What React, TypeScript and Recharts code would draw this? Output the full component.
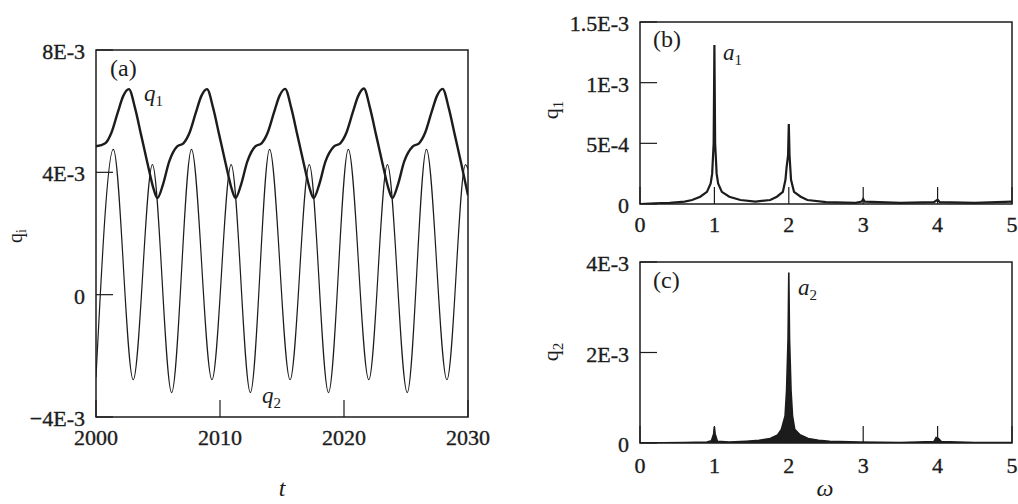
import {
  Area,
  AreaChart,
  Line,
  LineChart,
  ReferenceArea,
  XAxis,
  YAxis,
} from "recharts";

// values in units of 1E-3
const q1Years = [
  2000, 2000.75, 2001.25, 2001.75, 2002.2, 2002.65, 2003.15, 2003.65, 2004.15, 2004.65, 2004.95,
  2005.4, 2005.9, 2006.55, 2007.05, 2007.55, 2008.05, 2008.5, 2008.95, 2009.45, 2009.95, 2010.45,
  2010.95, 2011.25, 2011.7, 2012.2, 2012.85, 2013.35, 2013.85, 2014.35, 2014.8, 2015.25, 2015.75,
  2016.25, 2016.75, 2017.25, 2017.55, 2018.0, 2018.5, 2019.2, 2019.7, 2020.2, 2020.7, 2021.15,
  2021.6, 2022.1, 2022.6, 2023.1, 2023.6, 2023.9, 2024.35, 2024.85, 2025.55, 2026.05, 2026.55,
  2027.05, 2027.5, 2027.95, 2028.45, 2028.95, 2029.45, 2030,
];
const q1Values = [
  4.85, 4.95, 5.3, 5.95, 6.5, 6.72, 6.1, 5.2, 4.3, 3.45, 3.16,
  3.6, 4.35, 4.85, 4.95, 5.3, 5.95, 6.5, 6.72, 6.1, 5.2, 4.3,
  3.45, 3.16, 3.6, 4.35, 4.85, 4.95, 5.3, 5.95, 6.5, 6.73, 6.1,
  5.2, 4.3, 3.45, 3.16, 3.6, 4.35, 4.85, 4.95, 5.3, 5.95, 6.5,
  6.74, 6.1, 5.2, 4.3, 3.45, 3.16, 3.6, 4.35, 4.85, 4.95, 5.3,
  5.95, 6.5, 6.73, 6.1, 5.2, 4.3, 3.25,
];

const q2Years = [
  2000, 2001.4, 2003.0, 2004.55, 2006.1, 2007.7, 2009.35, 2010.9, 2012.45, 2014.0, 2015.65,
  2017.2, 2018.75, 2020.35, 2022.0, 2023.5, 2025.1, 2026.65, 2028.3, 2029.8, 2030,
];
const q2Values = [
  -2.7, 4.75, -2.78, 4.25, -3.2, 4.75, -2.78, 4.25, -3.2, 4.75, -2.78,
  4.25, -3.2, 4.75, -2.78, 4.25, -3.2, 4.75, -2.78, 4.25, 4.1,
];

const omegaB = [
  0, 0.2, 0.4, 0.6, 0.7, 0.81, 0.9, 0.95, 0.97, 0.99, 1.0, 1.01, 1.03, 1.05, 1.1, 1.2, 1.35, 1.55,
  1.75, 1.84, 1.92, 1.955, 1.97, 1.99, 2.0, 2.01, 2.03, 2.07, 2.16, 2.25, 2.5, 2.9, 2.98, 3.0, 3.02,
  3.5, 3.95, 4.0, 4.03, 4.5, 5.0,
];
const ampB = [
  0, 0.005, 0.01, 0.02, 0.033, 0.06, 0.1, 0.17, 0.25, 0.5, 1.31, 0.5, 0.25, 0.17, 0.1, 0.06, 0.033, 0.02,
  0.033, 0.06, 0.1, 0.2, 0.3, 0.4, 0.66, 0.4, 0.2, 0.1, 0.06, 0.033, 0.015, 0.01, 0.02, 0.04, 0.02,
  0.01, 0.015, 0.035, 0.015, 0.01, 0.02,
];

const omegaC = [
  0, 0.3, 0.6, 0.9, 0.96, 0.99, 1.0, 1.01, 1.04, 1.2, 1.43, 1.6, 1.75, 1.85, 1.9, 1.95, 1.97, 1.99,
  2.0, 2.01, 2.03, 2.05, 2.08, 2.15, 2.26, 2.4, 2.55, 2.95, 3.5, 3.95, 3.98, 4.01, 4.05, 4.5, 5.0,
];
const ampC = [
  0, 0.005, 0.01, 0.02, 0.05, 0.2, 0.35, 0.2, 0.04, 0.02, 0.04, 0.06, 0.1, 0.18, 0.3, 0.6, 1.16, 2.3,
  3.77, 2.3, 1.16, 0.6, 0.3, 0.18, 0.1, 0.06, 0.04, 0.02, 0.01, 0.03, 0.12, 0.1, 0.03, 0.01, 0.01,
];

const tTicks = [2000, 2010, 2020, 2030];
const qiTicks = [-4, 0, 4, 8];
const qiTickLabels = ["\u22124E-3", "0", "4E-3", "8E-3"];
const omegaTicks = [0, 1, 2, 3, 4, 5];
const q1SpecTicks = [0, 0.5, 1, 1.5];
const q1SpecLabels = ["0", "5E-4", "1E-3", "1.5E-3"];
const q2SpecTicks = [0, 2, 4];
const q2SpecLabels = ["0", "2E-3", "4E-3"];

const q1Data = q1Years.map((t, i) => ({ t, v: q1Values[i] }));
const q2Data = q2Years.map((t, i) => ({ t, v: q2Values[i] }));
const specB = omegaB.map((w, i) => ({ w, a: ampB[i] }));
const specC = omegaC.map((w, i) => ({ w, a: ampC[i] }));

const FONT = "Liberation Serif, Times New Roman, serif";
const INK = "#1c1c1c";
const TICK = 17;

function leftTick(ticks: number[], labels: string[]) {
  return (props: any) => {
    const { x, y, payload } = props;
    const i = ticks.indexOf(payload.value);
    return (
      <text
        x={x}
        y={y + 9}
        textAnchor="end"
        fontFamily={FONT}
        fontSize={22}
        fill={INK}
        stroke={INK}
        strokeWidth={0.35}
      >
        {i >= 0 ? labels[i] : payload.value}
      </text>
    );
  };
}

function BottomTick(props: any) {
  const { x, y, payload } = props;
  return (
    <text
      x={x}
      y={y + 15}
      textAnchor="middle"
      fontFamily={FONT}
      fontSize={22}
      fill={INK}
      stroke={INK}
      strokeWidth={0.35}
    >
      {payload.value}
    </text>
  );
}

const tickLine = { stroke: INK, strokeWidth: 1.2 };

function TimePanel() {
  return (
    <LineChart width={520} height={504} margin={{ top: 50, right: 52, bottom: 57, left: 36 }}>
      <XAxis
        dataKey="t"
        type="number"
        domain={[2000, 2030]}
        ticks={tTicks}
        interval={0}
        height={30}
        axisLine={false}
        tickLine={tickLine}
        tickSize={-TICK}
        tickMargin={30}
        tick={BottomTick}
        allowDataOverflow
      />
      <YAxis
        type="number"
        domain={[-4, 8]}
        ticks={qiTicks}
        interval={0}
        width={60}
        axisLine={false}
        tickLine={tickLine}
        tickSize={-TICK}
        tickMargin={28}
        tick={leftTick(qiTicks, qiTickLabels)}
        allowDataOverflow
      />
      <ReferenceArea x1={2000} x2={2030} y1={-4} y2={8} fill="none" stroke={INK} strokeWidth={1.5} />
      <Line data={q2Data} dataKey="v" type="monotone" stroke={INK} strokeWidth={1.2} dot={false} isAnimationActive={false} />
      <Line data={q1Data} dataKey="v" type="monotone" stroke={INK} strokeWidth={2.4} dot={false} isAnimationActive={false} />
    </LineChart>
  );
}

function SpectrumB() {
  return (
    <LineChart width={498} height={240} data={specB} margin={{ top: 22, right: 6, bottom: 6, left: 60 }}>
      <XAxis
        dataKey="w"
        type="number"
        domain={[0, 5]}
        ticks={omegaTicks}
        interval={0}
        height={30}
        axisLine={false}
        tickLine={tickLine}
        tickSize={-TICK}
        tickMargin={30}
        tick={BottomTick}
      />
      <YAxis
        type="number"
        domain={[0, 1.5]}
        ticks={q1SpecTicks}
        interval={0}
        width={60}
        axisLine={false}
        tickLine={tickLine}
        tickSize={-TICK}
        tickMargin={28}
        tick={leftTick(q1SpecTicks, q1SpecLabels)}
        allowDataOverflow
      />
      <ReferenceArea x1={0} x2={5} y1={0} y2={1.5} fill="none" stroke={INK} strokeWidth={1.5} />
      <Line dataKey="a" type="linear" stroke={INK} strokeWidth={2.2} dot={false} isAnimationActive={false} />
    </LineChart>
  );
}

function SpectrumC() {
  return (
    <AreaChart width={498} height={264} data={specC} margin={{ top: 22, right: 6, bottom: 31, left: 60 }}>
      <XAxis
        dataKey="w"
        type="number"
        domain={[0, 5]}
        ticks={omegaTicks}
        interval={0}
        height={30}
        axisLine={false}
        tickLine={tickLine}
        tickSize={-TICK}
        tickMargin={32}
        tick={BottomTick}
      />
      <YAxis
        type="number"
        domain={[0, 4]}
        ticks={q2SpecTicks}
        interval={0}
        width={60}
        axisLine={false}
        tickLine={tickLine}
        tickSize={-TICK}
        tickMargin={28}
        tick={leftTick(q2SpecTicks, q2SpecLabels)}
        allowDataOverflow
      />
      <Area dataKey="a" type="linear" stroke={INK} strokeWidth={1.6} fill={INK} fillOpacity={1} dot={false} isAnimationActive={false} />
      <ReferenceArea x1={0} x2={5} y1={0} y2={4} fill="none" stroke={INK} strokeWidth={1.5} />
    </AreaChart>
  );
}

const txt = { fontFamily: FONT, fill: INK };

export default function App() {
  return (
    <div style={{ position: "absolute", left: 0, top: 0, width: 1018, height: 504, background: "#fff", overflow: "hidden" }}>
      <div style={{ position: "absolute", left: 0, top: 0 }}>
        <TimePanel />
      </div>
      <div style={{ position: "absolute", left: 520, top: 0 }}>
        <SpectrumB />
      </div>
      <div style={{ position: "absolute", left: 520, top: 240 }}>
        <SpectrumC />
      </div>
      <svg width={1018} height={504} style={{ position: "absolute", left: 0, top: 0, pointerEvents: "none" }}>
        <text x={110} y={76} fontSize={24} {...txt}>(a)</text>
        <text x={144} y={101} fontSize={23} fontStyle="italic" {...txt}>
          q<tspan fontSize={15} fontStyle="normal" dy={5}>1</tspan>
        </text>
        <text x={262} y={403} fontSize={23} fontStyle="italic" {...txt}>
          q<tspan fontSize={15} fontStyle="normal" dy={5}>2</tspan>
        </text>
        <text x={282} y={496} fontSize={24} fontStyle="italic" textAnchor="middle" {...txt}>t</text>
        <text transform="translate(22,236) rotate(-90)" fontSize={20} textAnchor="middle" {...txt}>
          q<tspan fontSize={14} dy={4}>i</tspan>
        </text>

        <text x={653} y={47} fontSize={24} {...txt}>(b)</text>
        <text x={723} y={60} fontSize={23} fontStyle="italic" {...txt}>
          a<tspan fontSize={15} fontStyle="normal" dy={5}>1</tspan>
        </text>
        <text transform="translate(558,110) rotate(-90)" fontSize={22} textAnchor="middle" {...txt}>
          q<tspan fontSize={15} dy={5}>1</tspan>
        </text>

        <text x={653} y={288} fontSize={24} {...txt}>(c)</text>
        <text x={798} y={295} fontSize={23} fontStyle="italic" {...txt}>
          a<tspan fontSize={15} fontStyle="normal" dy={5}>2</tspan>
        </text>
        <text transform="translate(558,352) rotate(-90)" fontSize={22} textAnchor="middle" {...txt}>
          q<tspan fontSize={15} dy={5}>2</tspan>
        </text>
        <text x={825} y={496} fontSize={24} fontStyle="italic" textAnchor="middle" {...txt}>{"\u03c9"}</text>
      </svg>
    </div>
  );
}
